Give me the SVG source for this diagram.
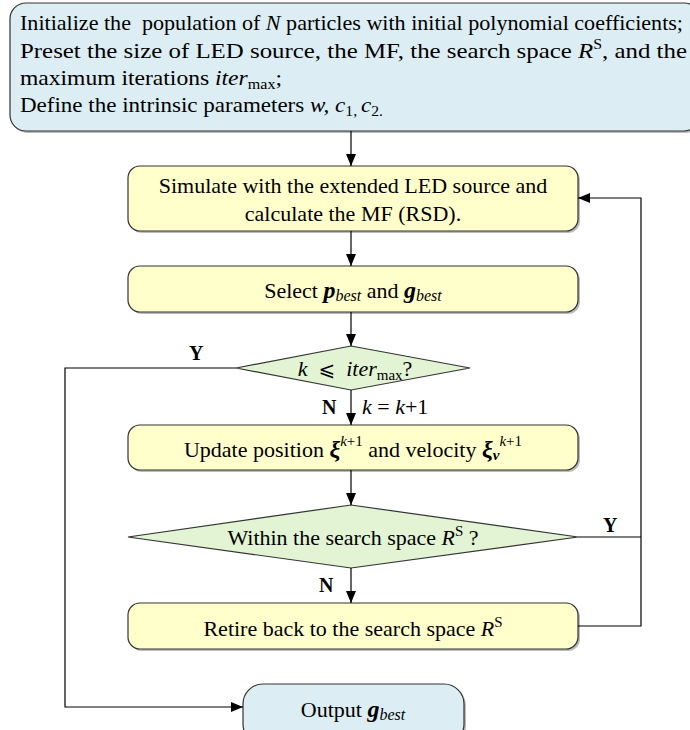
<svg xmlns="http://www.w3.org/2000/svg" width="690" height="730" viewBox="0 0 690 730">
<defs>
<marker id="ah" markerWidth="12" markerHeight="10" refX="12" refY="5" orient="auto" markerUnits="userSpaceOnUse">
<path d="M0,0 L12,5 L0,10 Z" fill="#000"/>
</marker>
</defs>
<style>
text{font-family:"Liberation Serif","Times New Roman",serif;font-size:22px;fill:#000}
.blue{fill:#DCEEF4;stroke:#333;stroke-width:1.2}
.yel{fill:#FFFFCC;stroke:#333;stroke-width:1.2}
.grn{fill:#E2F4D4;stroke:#333;stroke-width:1.2}
.sh{fill:#bbb;stroke:none}
.c{text-anchor:middle}
.con{fill:none;stroke:#000;stroke-width:1.2}
.lbl{font-weight:bold;font-size:20px}
</style>
<g id="init">
<rect class="sh" x="12" y="5" width="690" height="128" rx="16"/>
<rect class="blue" x="10" y="3" width="690" height="128" rx="16"/>
<text x="20" y="30" textLength="663" lengthAdjust="spacingAndGlyphs">Initialize the &#160;population of <tspan font-style="italic">N</tspan> particles with initial polynomial coefficients;</text>
<text x="20" y="58" textLength="667" lengthAdjust="spacingAndGlyphs">Preset the size of LED source, the MF, the search space <tspan font-style="italic">R</tspan><tspan font-size="14" dy="-9">S</tspan><tspan dy="9">, and the</tspan></text>
<text x="20" y="85" textLength="262" lengthAdjust="spacingAndGlyphs">maximum iterations <tspan font-style="italic">iter</tspan><tspan font-size="15" dy="4">max</tspan><tspan dy="-4">;</tspan></text>
<text x="20" y="112" textLength="363" lengthAdjust="spacingAndGlyphs">Define the intrinsic parameters <tspan font-style="italic">w, c</tspan><tspan font-size="15" dy="4">1, </tspan><tspan dy="-4" font-style="italic">c</tspan><tspan font-size="15" dy="4">2.</tspan></text>
</g>
<g id="simulate">
<rect class="sh" x="130" y="168" width="450" height="65" rx="12"/>
<rect class="yel" x="128" y="166" width="450" height="65" rx="12"/>
<text class="c" x="353" y="193">Simulate with the extended LED source and</text>
<text class="c" x="353" y="221">calculate the MF (RSD).</text>
</g>
<g id="select">
<rect class="sh" x="130" y="268" width="450" height="46" rx="12"/>
<rect class="yel" x="128" y="266" width="450" height="46" rx="12"/>
<text class="c" x="353" y="298">Select <tspan font-weight="bold" font-style="italic" font-size="24">p</tspan><tspan font-style="italic" font-size="16" dy="3">best</tspan><tspan dy="-3"> and </tspan><tspan font-weight="bold" font-style="italic" font-size="24">g</tspan><tspan font-style="italic" font-size="16" dy="3">best</tspan></text>
</g>
<g id="cond1">
<polygon class="grn" points="351,346 470,368 351,390 236,368"/>
<text class="c" x="355" y="376"><tspan font-style="italic">k</tspan>&#160; <tspan font-family="DejaVu Sans, sans-serif" font-size="20">⩽</tspan> &#160;<tspan font-style="italic">iter</tspan><tspan font-size="15" dy="4">max</tspan><tspan dy="-4">?</tspan></text>
</g>
<g id="update">
<rect class="sh" x="130" y="427" width="450" height="45" rx="12"/>
<rect class="yel" x="128" y="425" width="450" height="45" rx="12"/>
<text class="c" x="353" y="457">Update position <tspan font-weight="bold" font-style="italic" font-size="24">ξ</tspan><tspan font-size="15" font-style="italic" dy="-11">k</tspan><tspan font-size="15">+1</tspan><tspan dy="11"> and velocity </tspan><tspan font-weight="bold" font-style="italic" font-size="24">ξ</tspan><tspan font-weight="bold" font-style="italic" font-size="15" dy="3">v</tspan><tspan font-size="15" font-style="italic" dy="-14">k</tspan><tspan font-size="15">+1</tspan></text>
</g>
<g id="cond2">
<polygon class="grn" points="351,505 578,537 351,568 128,537"/>
<text class="c" x="353" y="545">Within the search space <tspan font-style="italic">R</tspan><tspan font-size="15" dy="-9">S</tspan><tspan dy="9"> ?</tspan></text>
</g>
<g id="retire">
<rect class="sh" x="130" y="605" width="450" height="46" rx="12"/>
<rect class="yel" x="128" y="603" width="450" height="46" rx="12"/>
<text class="c" x="353" y="636">Retire back to the search space <tspan font-style="italic">R</tspan><tspan font-size="15" dy="-9">S</tspan></text>
</g>
<g id="output">
<rect class="sh" x="245" y="686" width="221" height="60" rx="20"/>
<rect class="blue" x="243" y="684" width="221" height="60" rx="20"/>
<text class="c" x="353" y="717">Output <tspan font-weight="bold" font-style="italic" font-size="24">g</tspan><tspan font-style="italic" font-size="16" dy="3">best</tspan></text>
</g>
<g id="connectors">
<line class="con" x1="351" y1="131" x2="351" y2="166" marker-end="url(#ah)"/>
<line class="con" x1="351" y1="231" x2="351" y2="266" marker-end="url(#ah)"/>
<line class="con" x1="351" y1="312" x2="351" y2="346" marker-end="url(#ah)"/>
<line class="con" x1="351" y1="390" x2="351" y2="425" marker-end="url(#ah)"/>
<line class="con" x1="351" y1="470" x2="351" y2="505" marker-end="url(#ah)"/>
<line class="con" x1="351" y1="568" x2="351" y2="603" marker-end="url(#ah)"/>
<polyline class="con" points="236,368 65,368 65,707 243,707" marker-end="url(#ah)"/>
<polyline class="con" points="578,537 641,537"/>
<polyline class="con" points="578,626 641,626 641,198 578,198" marker-end="url(#ah)"/>
<text class="lbl" x="189" y="360">Y</text>
<text class="lbl" x="322" y="414">N</text>
<text x="362" y="414"><tspan font-style="italic">k</tspan> = <tspan font-style="italic">k</tspan>+1</text>
<text class="lbl" x="603" y="532">Y</text>
<text class="lbl" x="319" y="592">N</text>
</g>
</svg>
